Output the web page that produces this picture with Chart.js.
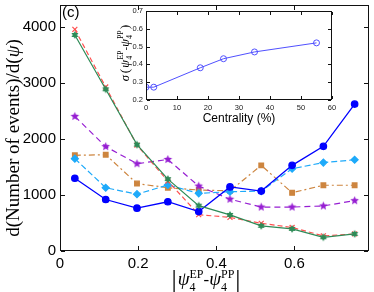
<!DOCTYPE html>
<html>
<head>
<meta charset="utf-8">
<script src="https://cdn.jsdelivr.net/npm/chart.js@4.4.0/dist/chart.umd.min.js"></script>
<style>
  html, body { margin: 0; padding: 0; background: #fff; }
  #wrap { position: relative; width: 374px; height: 292px; }
  #inset { position: absolute; left: 110px; top: 0; pointer-events: none; }
</style>
</head>
<body>
<div id="wrap">
  <canvas id="main" width="374" height="292"></canvas>
  <canvas id="inset" width="240" height="130"></canvas>
</div>
<script>
// ---------------------------- data ----------------------------
const psiDiff = [0.038, 0.117, 0.197, 0.276, 0.355, 0.435, 0.515, 0.594, 0.674, 0.754];

const blueVals   = [1300, 920, 765, 880, 705, 1145, 1070, 1530, 1870, 2625];
const cyanVals   = [1650, 1130, 1015, 1180, 1030, 1060, 1070, 1470, 1580, 1630];
const orangeVals = [1710, 1720, 1205, 1130, 1090, 1075, 1530, 1040, 1175, 1175];
const purpleVals = [2405, 1865, 1560, 1635, 1160, 925, 785, 785, 805, 900];
const redVals    = [3960, 2930, 1890, 1250, 650, 600, 495, 420, 270, 305];
const greenVals  = [3860, 2890, 1900, 1285, 810, 645, 450, 395, 245, 305];

const xTicks = [0, 0.2, 0.4, 0.6];
const yTicks = [0, 1000, 2000, 3000, 4000];

// inset
const centrality = [0, 2.5, 17.5, 25, 35, 55];
const sigmaVals  = [0.272, 0.272, 0.381, 0.432, 0.470, 0.521];
const insetXTicks = [0, 10, 20, 30, 40, 50, 60];
const insetYTicks = [0.2, 0.3, 0.4, 0.5, 0.6, 0.7];

// ---------------------------- helpers ----------------------------
function pairs(xs, ys) {
  return xs.map((x, i) => ({ x: x, y: ys[i] }));
}

// filled star markers (5 point and 6 point)
function starMarker(points, color, r, inner) {
  const s = Math.ceil(r * 2 + 2);
  const c = document.createElement('canvas');
  c.width = s; c.height = s;
  const g = c.getContext('2d');
  const m = s / 2;
  g.fillStyle = color;
  g.beginPath();
  for (let i = 0; i < points * 2; i++) {
    const a = -Math.PI / 2 + i * Math.PI / points;
    const rad = i % 2 ? r * inner : r;
    const px = m + rad * Math.cos(a), py = m + rad * Math.sin(a);
    if (i == 0) g.moveTo(px, py); else g.lineTo(px, py);
  }
  g.closePath();
  g.fill();
  return c;
}

// no extra room for the end labels, the plot box is placed by hand
function noOverflow(s) {
  s.paddingTop = 0; s.paddingBottom = 0;
  s.paddingLeft = 0; s.paddingRight = 0;
}

// text made of pieces, some with sup/sub stacked, centred on cx with baseline cy
function richText(ctx, segs, cx, cy, rot) {
  ctx.save();
  ctx.translate(cx, cy);
  ctx.rotate(rot || 0);
  ctx.textAlign = 'left';
  ctx.textBaseline = 'alphabetic';
  ctx.fillStyle = '#000';
  let total = 0;
  segs.forEach(s => {
    ctx.font = s.f;
    if (s.sup !== undefined) {
      s.w = Math.max(ctx.measureText(s.sup).width, ctx.measureText(s.sub).width);
    } else {
      s.w = ctx.measureText(s.t).width;
    }
    s.w += (s.gap || 0);
    total += s.w;
  });
  let x = -total / 2;
  segs.forEach(s => {
    ctx.font = s.f;
    if (s.sup !== undefined) {
      ctx.fillText(s.sup, x, s.up);
      ctx.fillText(s.sub, x, s.down);
    } else {
      ctx.fillText(s.t, x, s.dy || 0);
    }
    x += s.w;
  });
  ctx.restore();
}

// matlab style box with ticks pointing inwards
function drawBoxTicks(chart, len, xs, ys) {
  const ctx = chart.ctx;
  const a = chart.chartArea;
  const L = Math.round(a.left), R = Math.round(a.right) - 1;
  const T = Math.round(a.top), B = Math.round(a.bottom) - 1;
  ctx.save();
  ctx.fillStyle = '#111';
  ctx.fillRect(L, T, R - L + 1, 1);
  ctx.fillRect(L, B, R - L + 1, 1);
  ctx.fillRect(L, T, 1, B - T + 1);
  ctx.fillRect(R, T, 1, B - T + 1);
  xs.forEach(v => {
    const px = Math.round(chart.scales.x.getPixelForValue(v));
    ctx.fillRect(px, B - len, 1, len);
    ctx.fillRect(px, T + 1, 1, len);
  });
  ys.forEach(v => {
    const py = Math.round(chart.scales.y.getPixelForValue(v));
    ctx.fillRect(L + 1, py, len, 1);
    ctx.fillRect(R - len, py, len, 1);
  });
  ctx.restore();
}

// ---------------------------- main chart ----------------------------
const tickFont = { family: 'Liberation Sans', size: 15 };

const mainChart = new Chart(document.getElementById('main'), {
  type: 'line',
  data: {
    datasets: [
      {
        data: pairs(psiDiff, greenVals), order: 0,
        borderColor: 'rgb(46,139,87)', borderWidth: 1.2,
        pointStyle: starMarker(6, 'rgb(46,139,87)', 4, 0.55), pointRadius: 4
      },
      {
        data: pairs(psiDiff, blueVals), order: 1,
        borderColor: 'rgb(0,0,255)', borderWidth: 1.3,
        pointStyle: 'circle', pointRadius: 3.2,
        pointBackgroundColor: 'rgb(0,0,255)', pointBorderColor: 'rgb(0,0,255)'
      },
      {
        data: pairs(psiDiff, redVals), order: 2,
        borderColor: 'rgb(255,80,80)', borderWidth: 1.2, borderDash: [5, 3],
        pointStyle: 'crossRot', pointRadius: 3.5, pointBorderWidth: 1.2,
        pointBorderColor: 'rgb(255,80,80)'
      },
      {
        data: pairs(psiDiff, cyanVals), order: 3,
        borderColor: 'rgb(30,170,250)', borderWidth: 1.2, borderDash: [6, 3],
        pointStyle: 'rectRot', pointRadius: 3.5,
        pointBackgroundColor: 'rgb(30,170,250)', pointBorderColor: 'rgb(30,170,250)'
      },
      {
        data: pairs(psiDiff, purpleVals), order: 4,
        borderColor: 'rgb(150,30,210)', borderWidth: 1.2, borderDash: [6, 4],
        pointStyle: starMarker(5, 'rgb(150,30,210)', 4.5, 0.45), pointRadius: 4
      },
      {
        data: pairs(psiDiff, orangeVals), order: 5,
        borderColor: 'rgb(205,133,63)', borderWidth: 1.2, borderDash: [6, 3, 2, 3],
        pointStyle: 'rect', pointRadius: 3.3,
        pointBackgroundColor: 'rgb(205,133,63)', pointBorderColor: 'rgb(205,133,63)'
      }
    ]
  },
  options: {
    responsive: false,
    animation: false,
    devicePixelRatio: 1,
    layout: { padding: { top: 4, right: 2.5, left: 0, bottom: 0 } },
    plugins: { legend: { display: false }, tooltip: { enabled: false } },
    elements: { line: { tension: 0, fill: false } },
    scales: {
      x: {
        type: 'linear', min: 0, max: 0.79,
        afterBuildTicks: s => { s.ticks = xTicks.map(v => ({ value: v })); },
        afterFit: s => { s.height = 41; noOverflow(s); },
        grid: { display: false, drawTicks: false },
        border: { display: false },
        ticks: { font: tickFont, color: '#000', padding: 4, maxRotation: 0, autoSkip: false,
                 callback: v => String(v) }
      },
      y: {
        type: 'linear', min: 0, max: 4390,
        afterBuildTicks: s => { s.ticks = yTicks.map(v => ({ value: v })); },
        afterFit: s => { s.width = 60; noOverflow(s); },
        grid: { display: false, drawTicks: false },
        border: { display: false },
        ticks: { font: tickFont, color: '#000', padding: 4, autoSkip: false,
                 callback: v => String(v) }
      }
    }
  }
});

function decorateMain(chart) {
  const ctx = chart.ctx;
  drawBoxTicks(chart, 4, xTicks, yTicks);

  ctx.save();
  ctx.fillStyle = '#000';
  ctx.font = '15px "Liberation Sans"';
  ctx.textAlign = 'left';
  ctx.textBaseline = 'alphabetic';
  ctx.fillText('(c)', 62, 17);
  ctx.restore();

  const serif = '"Liberation Serif"';
  // y title
  richText(ctx, [
    { t: 'd(Number of events)/d(', f: '19px ' + serif },
    { t: 'ψ', f: 'italic 19px ' + serif },
    { t: ')', f: '19px ' + serif }
  ], 19, 138, -Math.PI / 2);

  // x title
  richText(ctx, [
    { t: '|', f: '26px ' + serif, gap: 1 },
    { t: 'ψ', f: 'italic 19px ' + serif, dy: -2 },
    { sup: 'EP', sub: '4', f: '12px ' + serif, up: -9, down: 4 },
    { t: '-', f: '17px ' + serif, dy: -2 },
    { t: 'ψ', f: 'italic 19px ' + serif, dy: -2 },
    { sup: 'PP', sub: '4', f: '12px ' + serif, up: -9, down: 4, gap: 1 },
    { t: '|', f: '26px ' + serif }
  ], 206, 287, 0);
}
decorateMain(mainChart);

// ---------------------------- inset ----------------------------
const insetPlugin = {
  id: 'insetBg',
  beforeDatasetsDraw(chart) {
    const a = chart.chartArea;
    chart.ctx.save();
    chart.ctx.fillStyle = '#fff';
    chart.ctx.fillRect(a.left, a.top, a.right - a.left, a.bottom - a.top);
    chart.ctx.restore();
  }
};

const insetTickFont = { family: 'Liberation Sans', size: 7.5 };

const insetChart = new Chart(document.getElementById('inset'), {
  type: 'line',
  data: {
    datasets: [{
      data: pairs(centrality, sigmaVals),
      borderColor: 'rgb(80,80,255)', borderWidth: 1,
      pointStyle: 'circle', pointRadius: 3, pointBorderWidth: 1,
      pointBackgroundColor: 'rgba(255,255,255,0)', pointBorderColor: 'rgb(80,80,255)'
    }]
  },
  options: {
    responsive: false,
    animation: false,
    devicePixelRatio: 1,
    layout: { padding: { top: 11, right: 18, left: 0, bottom: 0 } },
    plugins: { legend: { display: false }, tooltip: { enabled: false } },
    elements: { line: { tension: 0, fill: false } },
    scales: {
      x: {
        type: 'linear', min: 0, max: 60,
        afterBuildTicks: s => { s.ticks = insetXTicks.map(v => ({ value: v })); },
        afterFit: s => { s.height = 30; noOverflow(s); },
        grid: { display: false, drawTicks: false },
        border: { display: false },
        ticks: { font: insetTickFont, color: '#222', padding: 3, maxRotation: 0, autoSkip: false,
                 callback: v => String(v) }
      },
      y: {
        type: 'linear', min: 0.2, max: 0.7,
        afterBuildTicks: s => { s.ticks = insetYTicks.map(v => ({ value: v })); },
        afterFit: s => { s.width = 36; noOverflow(s); },
        grid: { display: false, drawTicks: false },
        border: { display: false },
        ticks: { font: insetTickFont, color: '#222', padding: 3, autoSkip: false,
                 callback: v => v.toFixed(1) }
      }
    }
  },
  plugins: [insetPlugin]
});

function decorateInset(chart) {
  const ctx = chart.ctx;
  const a = chart.chartArea;
  drawBoxTicks(chart, 3, insetXTicks, insetYTicks);

  ctx.save();
  ctx.fillStyle = '#000';
  ctx.font = '12px "Liberation Sans"';
  ctx.textAlign = 'center';
  ctx.textBaseline = 'alphabetic';
  ctx.fillText('Centrality (%)', (a.left + a.right) / 2, 122);
  ctx.restore();

  const serif = '"Liberation Serif"';
  richText(ctx, [
    { t: 'σ', f: 'italic 12.5px ' + serif, gap: 2 },
    { t: '(', f: '13.5px ' + serif, gap: 1 },
    { t: 'ψ', f: 'italic 12.5px ' + serif },
    { sup: 'EP', sub: '4', f: '8px ' + serif, up: -6, down: 3 },
    { t: '-', f: '11px ' + serif },
    { t: 'ψ', f: 'italic 12.5px ' + serif },
    { sup: 'PP', sub: '4', f: '8px ' + serif, up: -6, down: 3, gap: 1 },
    { t: ')', f: '13.5px ' + serif }
  ], 19, 53, -Math.PI / 2);
}
decorateInset(insetChart);
</script>
</body>
</html>
